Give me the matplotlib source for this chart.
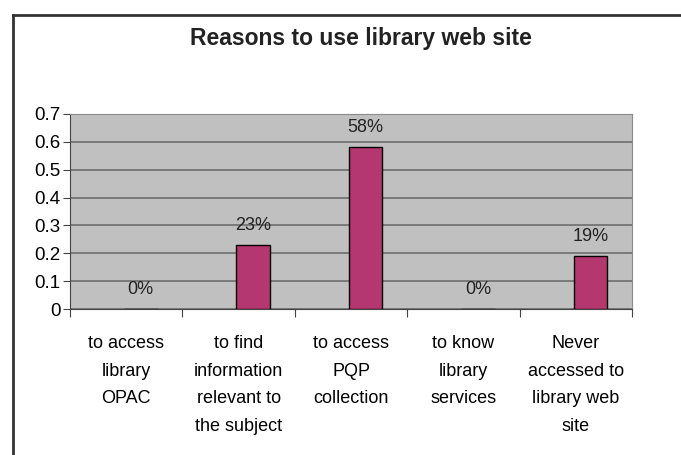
import matplotlib
matplotlib.use("Agg")
import matplotlib.pyplot as plt
from matplotlib.lines import Line2D
import numpy as np

categories = [
    "to access\nlibrary\nOPAC",
    "to find\ninformation\nrelevant to\nthe subject",
    "to access\nPQP\ncollection",
    "to know\nlibrary\nservices",
    "Never\naccessed to\nlibrary web\nsite",
]
values = [0.0, 0.23, 0.58, 0.0, 0.19]
labels = ["0%", "23%", "58%", "0%", "19%"]
yticks = [0, 0.1, 0.2, 0.3, 0.4, 0.5, 0.6, 0.7]

plt.rcParams['font.family'] = ['Liberation Sans', 'DejaVu Sans']

fig = plt.figure(figsize=(6.81, 4.55), dpi=100)
ax = fig.add_axes([70 / 681, 1 - 309 / 455, 562 / 681, 195 / 455])

# outer frame of the chart
fig.add_artist(Line2D([13 / 681, 1], [1 - 15 / 455, 1 - 15 / 455], color='#333333', lw=2))
fig.add_artist(Line2D([13 / 681, 13 / 681], [0, 1 - 15 / 455], color='#333333', lw=2))

x = np.arange(len(categories))
offset = 0.13
ax.set_facecolor('#c0c0c0')
ax.bar(x + offset, values, width=0.3, color='#b5376f', edgecolor='black', linewidth=1, zorder=3)
for xi, v, lab in zip(x, values, labels):
    ax.text(xi + offset, v + 0.07, lab, ha='center', va='center', fontsize=13, color='#222222')

ax.set_xlim(-0.5, len(categories) - 0.5)
ax.set_ylim(0, 0.7)
ax.set_yticks(yticks)
ax.set_yticklabels([f"{t:g}" for t in yticks], fontsize=13.5)
ax.yaxis.grid(True, color='#6e6e6e', lw=1.2, zorder=1)
ax.set_axisbelow(True)

ax.set_xticks(np.arange(len(categories) + 1) - 0.5)
ax.set_xticklabels([])
ax.set_xticks(x, minor=True)
ax.set_xticklabels(categories, minor=True, fontsize=13, linespacing=1.8, va='top')
ax.tick_params(axis='x', which='minor', length=0, pad=19)
ax.tick_params(axis='x', which='major', length=6, direction='out', color='#444444')
ax.tick_params(axis='y', length=5, color='#444444', pad=2)

for s in ['top', 'right']:
    ax.spines[s].set_color('#8a8a8a')
for s in ['left', 'bottom']:
    ax.spines[s].set_color('#444444')

fig.text(361 / 681, 1 - 39 / 455, "Reasons to use library web site", ha='center', va='center',
         fontsize=16.5, fontweight='bold', color='#222222')

fig.savefig("out.png", dpi=100)
